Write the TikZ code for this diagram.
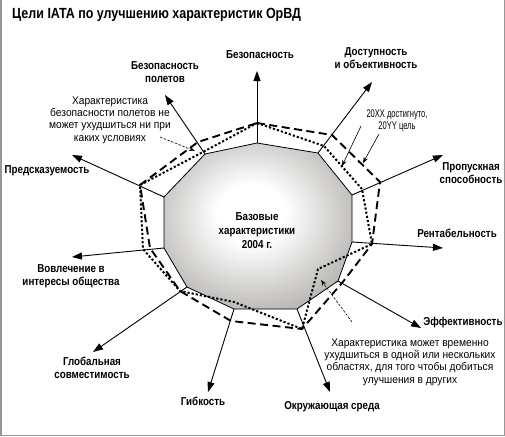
\documentclass[tikz,border=0pt]{standalone}
\usepackage{fontspec}
\setmainfont{Liberation Sans}
\newfontfamily\bcond{Liberation Sans}[FakeStretch=0.85]
\newfontfamily\rcond{Liberation Sans}[FakeStretch=0.92]
\newfontfamily\ncond{Liberation Sans}[FakeStretch=0.68]
\usetikzlibrary{arrows.meta}
\definecolor{basegray}{RGB}{122,119,114}
\definecolor{framegray}{RGB}{150,150,150}
\pgfdeclareradialshading{baseshade}{\pgfpoint{-2bp}{4bp}}{color(0bp)=(white); color(9bp)=(white); color(30bp)=(basegray!55!white); color(47bp)=(basegray); color(80bp)=(basegray)}
\begin{document}
\begin{tikzpicture}[x=1pt,y=-1pt,
  axis/.style={line width=0.9pt, -{Triangle[length=10pt,width=7pt]}},
  goal/.style={line width=1.9pt, dash pattern=on 8pt off 4.5pt},
  achieved/.style={line width=2pt, dash pattern=on 2.2pt off 2pt},
  lbl/.style={font=\bcond\bfseries\fontsize{11.5}{13}\selectfont, align=center, inner sep=0pt},
  cent/.style={font=\bcond\bfseries\fontsize{11.5}{14}\selectfont, align=center, inner sep=0pt},
  title/.style={font=\bcond\bfseries\fontsize{14.7}{16}\selectfont, inner sep=0pt, anchor=west},
  note/.style={font=\rcond\fontsize{11.1}{12.4}\selectfont, align=center, inner sep=0pt},
  smallnote/.style={font=\ncond\fontsize{11.1}{12.4}\selectfont, align=center, inner sep=0pt},
  notearrow/.style={line width=0.6pt, -{Stealth[length=6pt,width=4.5pt]}},
  notedash/.style={notearrow, dash pattern=on 2.5pt off 1.5pt}]
\useasboundingbox (0,0) rectangle (505,436);
% frame
\draw[framegray, line width=1.5pt] (0.75,0) -- (0.75,435.25) -- (504.25,435.25) -- (504.25,0);
% title
\node[title] (T) at (12,15) {Цели IATA по улучшению характеристик ОрВД};
% base polygon vertices
\coordinate (b1) at (257,143);
\coordinate (b2) at (318,153);
\coordinate (b3) at (352,195);
\coordinate (b4) at (352,242);
\coordinate (b5) at (338,281);
\coordinate (b6) at (297,309);
\coordinate (b7) at (234,309);
\coordinate (b8) at (187,287);
\coordinate (b9) at (164,248);
\coordinate (b10) at (164,197);
\coordinate (b11) at (205,154);
% arrow tips
\coordinate (t1) at (257,71);
\coordinate (t2) at (372,82);
\coordinate (t3) at (443,155);
\coordinate (t4) at (443,248);
\coordinate (t5) at (421,328);
\coordinate (t6) at (330,392);
\coordinate (t7) at (208,392);
\coordinate (t8) at (93,352);
\coordinate (t9) at (72,257);
\coordinate (t10) at (72,155);
\coordinate (t11) at (165,95);
% goal (dashed)
\coordinate (d1) at (257,123);
\coordinate (d2) at (332,135);
\coordinate (d3) at (380,182);
\coordinate (d4) at (372,244);
\coordinate (d5) at (342,283);
\coordinate (d6) at (302,329);
\coordinate (d7) at (231,321);
\coordinate (d8) at (180,291);
\coordinate (d9) at (150,248);
\coordinate (d10) at (140,185);
\coordinate (d11) at (198,142);
% achieved (dotted)
\coordinate (p1) at (257,123);
\coordinate (p2) at (324,146);
\coordinate (p3) at (362,189);
\coordinate (p4) at (372,244);
\coordinate (p5) at (318,269);
\coordinate (p6) at (302,329);
\coordinate (p7) at (234,302);
\coordinate (p8) at (180,291);
\coordinate (p9) at (143,249);
\coordinate (p10) at (140,185);
\coordinate (p11) at (203,152);
% base polygon
\path[shading=baseshade] (b1) -- (b2) -- (b3) -- (b4) -- (b5) -- (b6) -- (b7) -- (b8) -- (b9) -- (b10) -- (b11) -- cycle;
\draw[line width=0.8pt, line join=miter] (b1) -- (b2) -- (b3) -- (b4) -- (b5) -- (b6) -- (b7) -- (b8) -- (b9) -- (b10) -- (b11) -- cycle;
% axes
\foreach \i in {1,...,11} {\draw[axis] (b\i) -- (t\i);}
% goal and achieved
\draw[goal] (d1) -- (d2) -- (d3) -- (d4) -- (d5) -- (d6) -- (d7) -- (d8) -- (d9) -- (d10) -- (d11) -- cycle;
\draw[achieved] (p1) -- (p2) -- (p3) -- (p4) -- (p5) -- (p6) -- (p7) -- (p8) -- (p9) -- (p10) -- (p11) -- cycle;
% centre text
\node[cent] (base) at (257,231) {Базовые\\характеристики\\2004 г.};
% labels
\node[lbl] (L1) at (260,55) {Безопасность};
\node[lbl] (L2) at (376,58) {Доступность\\и объективность};
\node[lbl] (L3) at (471,173.5) {Пропускная\\способность};
\node[lbl] (L4) at (457,233) {Рентабельность};
\node[lbl] (L5) at (463,323) {Эффективность};
\node[lbl] (L6) at (332,407) {Окружающая среда};
\node[lbl] (L7) at (203,401) {Гибкость};
\node[lbl] (L8) at (92,368) {Глобальная\\совместимость};
\node[lbl] (L9) at (71,276) {Вовлечение в\\интересы общества};
\node[lbl] (L10) at (47,171) {Предсказуемость};
\node[lbl] (L11) at (165,72) {Безопасность\\полетов};
% notes
\node[note] (N1) at (110,120) {Характеристика\\безопасности полетов не\\может ухудшиться ни при\\каких условиях};
\node[smallnote] (N2) at (397,121) {20XX достигнуто,\\20YY цель};
\node[note] (N3) at (410,362) {Характеристика может временно\\ухудшиться в одной или нескольких\\областях, для того чтобы добиться\\улучшения в других};
% note arrows
\coordinate (n1s) at (160,137);
\coordinate (n1e) at (195,151);
\coordinate (n2s) at (361,126);
\coordinate (n2e) at (342,166);
\coordinate (n3s) at (379,134);
\coordinate (n3e) at (363,163);
\coordinate (n4s) at (352,322);
\coordinate (n4e) at (321,280);
\draw[notedash] (n1s) -- (n1e);
\draw[notearrow] (n2s) -- (n2e);
\draw[notearrow] (n3s) -- (n3e);
\draw[notedash] (n4s) -- (n4e);
\end{tikzpicture}
\end{document}
